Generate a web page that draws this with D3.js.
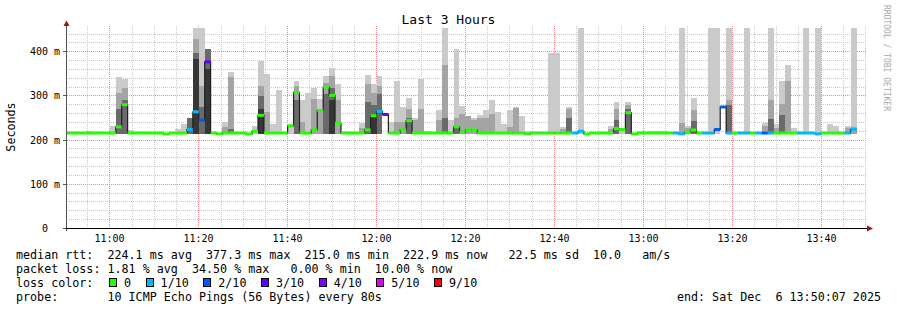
<!DOCTYPE html>
<html>
<head>
<meta charset="utf-8">
<script src="https://cdn.jsdelivr.net/npm/d3@7"></script>
<style>
body { margin: 0; background: #fff; }
svg text { font-family: "DejaVu Sans Mono", monospace; white-space: pre; }
</style>
</head>
<body>
<div id="chart"></div>
<script>
const _ = null;

// samples every 80s, first one starts a bit before the visible window
const sampleStart = new Date(2025, 11, 6, 10, 49, 19);
const stepSec = 80;
const viewStart = new Date(2025, 11, 6, 10, 50, 7);
const viewEnd = new Date(2025, 11, 6, 13, 50, 7);

// median rtt in ms per sample
const median = [
  216,216,216,216,216,216,216,216,216,230,
  280,216,216,216,216,216,216,214,216,216,
  216,224,264,245,377,216,214,216,216,216,
  216,214,220,256,216,216,216,216,232,308,
  216,216,223,267,320,301,238,216,216,216,
  216,223,255,265,258,216,216,223,244,216,
  216,216,216,216,216,216,230,218,223,223,
  216,216,216,216,216,216,216,216,214,216,
  216,216,216,216,216,216,216,220,214,216,
  216,216,216,226,224,262,214,216,216,216,
  216,216,216,216,214,218,223,216,216,216,
  224,275,216,216,216,216,216,216,216,216,
  216,216,216,216,216,216,216,214,216,216,
  216,216,216,224,_,_
];

// lost pings (out of 10) per sample
const loss = [
  0,0,0,0,0,0,0,0,0,0,
  0,0,0,0,0,0,0,0,0,0,
  0,1,1,2,3,0,0,0,0,0,
  0,0,0,0,0,0,0,0,0,0,
  0,0,0,0,0,0,0,0,0,0,
  0,0,0,1,3,0,0,0,0,0,
  0,0,0,0,0,0,0,0,0,0,
  0,0,0,0,0,0,0,0,0,0,
  0,0,0,0,0,0,1,1,0,0,
  0,0,0,0,0,0,0,0,0,0,
  0,0,0,1,1,0,0,0,1,1,
  2,2,1,0,1,1,0,1,2,1,
  0,0,0,0,1,1,1,1,0,0,
  0,0,1,1,_,_
];

// smoke: top of each ping layer (outer -> inner), ms
const smokeMax = [
  _,_,_,_,220,_,_,_,232,342,
  338,223,_,_,_,_,_,_,_,225,
  236,249,454,454,405,_,_,241,354,_,
  _,_,232,380,350,236,314,_,236,334,
  291,307,317,293,345,363,326,_,_,_,
  238,347,326,345,_,240,333,274,296,251,
  339,220,_,267,454,245,405,278,254,251,
  257,269,290,264,236,268,275,254,220,_,
  _,_,398,398,229,274,_,454,_,_,
  _,_,233,287,228,287,_,220,220,220,
  220,220,_,_,454,232,296,_,_,454,
  454,_,454,_,_,454,_,_,238,454,
  236,333,369,227,_,454,_,454,_,236,
  232,_,232,454,_,_
];
const smokeP2 = [
  _,_,_,_,_,_,_,_,_,307,
  317,_,_,_,_,_,_,_,_,_,
  _,_,429,323,405,_,_,230,342,_,
  _,_,_,323,264,_,_,_,_,323,
  241,_,293,270,330,345,291,_,_,_,
  227,326,307,323,_,_,241,241,271,245,
  271,_,_,246,369,_,250,260,254,245,
  250,250,260,_,_,229,273,_,_,_,
  _,_,_,_,225,270,_,_,_,_,
  _,_,225,270,_,280,_,_,_,_,
  _,_,_,_,238,227,268,_,_,_,
  _,_,290,_,_,_,_,_,232,291,
  228,282,333,_,_,_,_,_,_,_,
  _,_,227,229,_,_
];
const smokeP3 = [
  _,_,_,_,_,_,_,_,_,270,
  291,_,_,_,_,_,_,_,_,_,
  _,249,397,274,405,_,_,_,225,_,
  _,_,_,300,_,_,_,_,_,291,
  _,_,_,_,305,318,_,_,_,_,
  _,287,280,305,_,_,_,_,250,_,
  _,_,_,_,251,_,230,_,_,_,
  _,_,_,_,_,_,_,_,_,_,
  _,_,_,_,_,250,_,_,_,_,
  _,_,_,245,_,270,_,_,_,_,
  _,_,_,_,_,_,243,_,_,_,
  _,_,280,_,_,_,_,_,_,248,
  _,257,_,_,_,_,_,_,_,_,
  _,_,_,_,_,_
];
const smokeP4 = [
  _,_,_,_,_,_,_,_,_,_,
  _,_,_,_,_,_,_,_,_,_,
  _,_,384,_,361,_,_,_,_,_,
  _,_,_,270,_,_,_,_,_,_,
  _,_,_,_,_,290,_,_,_,_,
  _,_,255,_,_,_,_,_,_,_,
  _,_,_,_,_,_,_,_,_,_,
  _,_,_,_,_,_,_,_,_,_,
  _,_,_,_,_,_,_,_,_,_,
  _,_,_,_,_,_,_,_,_,_,
  _,_,_,_,_,_,_,_,_,_,
  _,_,_,_,_,_,_,_,_,_,
  _,_,_,_,_,_,_,_,_,_,
  _,_,_,_,_,_
];
const smokeFloor = 214;

const yTicks = [0, 100, 200, 300, 400];
const yTickLabels = ["0  ", "100 m", "200 m", "300 m", "400 m"];

const lossLabels = ["0", "1/10", "2/10", "3/10", "4/10", "5/10", "9/10"];
const lossColors = ["#26ff00", "#00b8ff", "#0059ff", "#5e00ff", "#7e00ff", "#dd00ff", "#ff0000"];

const legendLines = [
  "median rtt:  224.1 ms avg  377.3 ms max  215.0 ms min  222.9 ms now   22.5 ms sd  10.0   am/s",
  "packet loss: 1.81 % avg  34.50 % max   0.00 % min  10.00 % now"
];
const probeText = "probe:       10 ICMP Echo Pings (56 Bytes) every 80s";
const endText = "end: Sat Dec  6 13:50:07 2025";

// ---------------------------------------------------------------
var svg = d3.select("#chart").append("svg")
    .attr("width", 897)
    .attr("height", 310);

svg.append("rect").attr("width", 897).attr("height", 310).attr("fill", "#ffffff");

var x = d3.scaleTime().domain([viewStart, viewEnd]).range([66, 866]);
var y = d3.scaleLinear().domain([0, 457]).range([228.5, 26.5]);

function ts(k) { return new Date(+sampleStart + k * stepSec * 1000); }
function lossColor(l) { return lossColors[l <= 5 ? l : 6]; }
function px(v) { return Math.floor(v) + 0.5; }

// grid
var minorT = d3.timeMinute.every(5).range(viewStart, viewEnd).filter(function(t){ return t.getMinutes() % 20 != 0; });
var majorT = d3.timeMinute.every(20).range(viewStart, viewEnd);
var minorV = d3.range(20, 457, 20).filter(function(v){ return v % 100 != 0; });
var majorV = [100, 200, 300, 400];

var grid = svg.append("g").attr("stroke-dasharray", "1,1").attr("stroke-width", 1);
grid.selectAll(".vmin").data(minorT).enter().append("line")
    .attr("x1", function(d){ return px(x(d)); }).attr("x2", function(d){ return px(x(d)); })
    .attr("y1", 26).attr("y2", 228).attr("stroke", "#c8c8c8");
grid.selectAll(".hmin").data(minorV).enter().append("line")
    .attr("x1", 67).attr("x2", 866)
    .attr("y1", function(d){ return px(y(d)); }).attr("y2", function(d){ return px(y(d)); })
    .attr("stroke", "#c8c8c8");
grid.selectAll(".vmaj").data(majorT).enter().append("line")
    .attr("x1", function(d){ return px(x(d)); }).attr("x2", function(d){ return px(x(d)); })
    .attr("y1", 26).attr("y2", 228).attr("stroke", "#f08a8a");
grid.selectAll(".hmaj").data(majorV).enter().append("line")
    .attr("x1", 67).attr("x2", 866)
    .attr("y1", function(d){ return px(y(d)); }).attr("y2", function(d){ return px(y(d)); })
    .attr("stroke", "#f08a8a");

// clip to plot
svg.append("clipPath").attr("id", "plotclip").append("rect")
    .attr("x", 67).attr("y", 20).attr("width", 799).attr("height", 208);
var plot = svg.append("g").attr("clip-path", "url(#plotclip)");

// smoke layers
var smokeLevels = [
  [smokeMax, "#cacaca"],
  [smokeP2, "#a4a4a4"],
  [smokeP3, "#6a6a6a"],
  [smokeP4, "#363636"]
];
smokeLevels.forEach(function(lvl){
  var vals = lvl[0].map(function(v, k){ return {k: k, v: v}; }).filter(function(d){ return d.v != null; });
  plot.append("g").selectAll("rect").data(vals).enter().append("rect")
    .attr("x", function(d){ return x(ts(d.k)); })
    .attr("width", function(d){ return x(ts(d.k + 1)) - x(ts(d.k)); })
    .attr("y", function(d){ return y(d.v); })
    .attr("height", function(d){ return y(smokeFloor) - y(d.v); })
    .attr("fill", lvl[1])
    .attr("shape-rendering", "crispEdges");
});

// median step line
var medPts = median.map(function(m, k){ return {t: ts(k), m: m, k: k}; }).filter(function(d){ return d.m != null; });
var lastPt = medPts[medPts.length - 1];
medPts.push({t: ts(lastPt.k + 1), m: lastPt.m, k: lastPt.k + 1});

var stepLine = d3.line()
    .x(function(d){ return x(d.t); })
    .y(function(d){ return y(d.m); })
    .curve(d3.curveStepAfter);

plot.append("path")
    .datum(medPts)
    .attr("d", stepLine)
    .attr("fill", "none")
    .attr("stroke", "#202020")
    .attr("stroke-width", 1.2);

// loss coloured median segments
var segs = median.map(function(m, k){ return {k: k, m: m, l: loss[k]}; }).filter(function(d){ return d.m != null; });
plot.append("g").selectAll("line").data(segs).enter().append("line")
    .attr("x1", function(d){ return x(ts(d.k)); })
    .attr("x2", function(d){ return x(ts(d.k + 1)); })
    .attr("y1", function(d){ return y(d.m); })
    .attr("y2", function(d){ return y(d.m); })
    .attr("stroke", function(d){ return lossColor(d.l); })
    .attr("stroke-width", 3);

// axes
svg.append("line").attr("x1", 66.5).attr("x2", 66.5).attr("y1", 231).attr("y2", 24)
    .attr("stroke", "#555").attr("stroke-width", 1);
svg.append("line").attr("x1", 63).attr("x2", 868).attr("y1", 228.5).attr("y2", 228.5)
    .attr("stroke", "#000").attr("stroke-width", 1);
svg.append("path").attr("d", "M63.5,26 L66.5,20.5 L69.5,26 Z").attr("fill", "#8b1c1c");
svg.append("path").attr("d", "M867,225.5 L873,228.5 L867,231.5 Z").attr("fill", "#8b1c1c");

// y ticks
svg.append("g").selectAll("line").data(yTicks).enter().append("line")
    .attr("x1", 63).attr("x2", 66)
    .attr("y1", function(d){ return px(y(d)); }).attr("y2", function(d){ return px(y(d)); })
    .attr("stroke", "#555");

svg.append("g").selectAll("text").data(yTicks).enter().append("text")
    .attr("x", 60)
    .attr("y", function(d){ return px(y(d)) + 3.5; })
    .attr("text-anchor", "end")
    .attr("font-size", "10px")
    .attr("fill", "#000")
    .text(function(d, i){ return yTickLabels[i]; });

// x tick labels
svg.append("g").selectAll("text").data(majorT.concat(d3.timeMinute.every(20).range(viewStart, viewEnd)).filter(function(d, i, a){ return a.indexOf(d) == i; }).slice(0, majorT.length)).enter().append("text")
    .attr("x", function(d){ return px(x(d)); })
    .attr("y", 241.5)
    .attr("text-anchor", "middle")
    .attr("font-size", "10px")
    .attr("fill", "#000")
    .text(d3.timeFormat("%H:%M"));

// title, y label, watermark
svg.append("text").attr("x", 448.5).attr("y", 24).attr("text-anchor", "middle")
    .attr("font-size", "13px").attr("fill", "#000").text("Last 3 Hours");
svg.append("text").attr("transform", "translate(15,127) rotate(-90)").attr("text-anchor", "middle")
    .attr("font-size", "11.7px").attr("fill", "#000").text("Seconds");
svg.append("text").attr("transform", "translate(884,5) rotate(90)")
    .attr("font-size", "8px").attr("fill", "#a8a8a8").text("RRDTOOL / TOBI OETIKER");

// legend
svg.append("g").selectAll("text").data(legendLines).enter().append("text")
    .attr("x", 16)
    .attr("y", function(d, i){ return 259 + i * 14; })
    .attr("font-size", "11.7px")
    .attr("fill", "#000")
    .text(function(d){ return d; });

svg.append("text").attr("x", 16).attr("y", 287).attr("font-size", "11.7px").attr("fill", "#000").text("loss color:");

var charW = 7.02;
var lx = 109;
var legItems = lossLabels.map(function(lab, i){
  var item = {lab: lab, col: lossColors[i], x: lx};
  lx = lx + 15 + lab.length * charW + 14.6;
  return item;
});
var leg = svg.append("g").selectAll("g").data(legItems).enter().append("g");
leg.append("rect")
    .attr("x", function(d){ return Math.round(d.x) + 0.5; })
    .attr("y", 278.5)
    .attr("width", 7).attr("height", 8)
    .attr("fill", function(d){ return d.col; })
    .attr("stroke", "#000").attr("stroke-width", 1);
leg.append("text")
    .attr("x", function(d){ return d.x + 15; })
    .attr("y", 287)
    .attr("font-size", "11.7px")
    .attr("fill", "#000")
    .text(function(d){ return d.lab; });

svg.append("text").attr("x", 16).attr("y", 301).attr("font-size", "11.7px").attr("fill", "#000").text(probeText);
svg.append("text").attr("x", 881).attr("y", 301).attr("text-anchor", "end").attr("font-size", "11.7px").attr("fill", "#000").text(endText);
</script>
</body>
</html>
